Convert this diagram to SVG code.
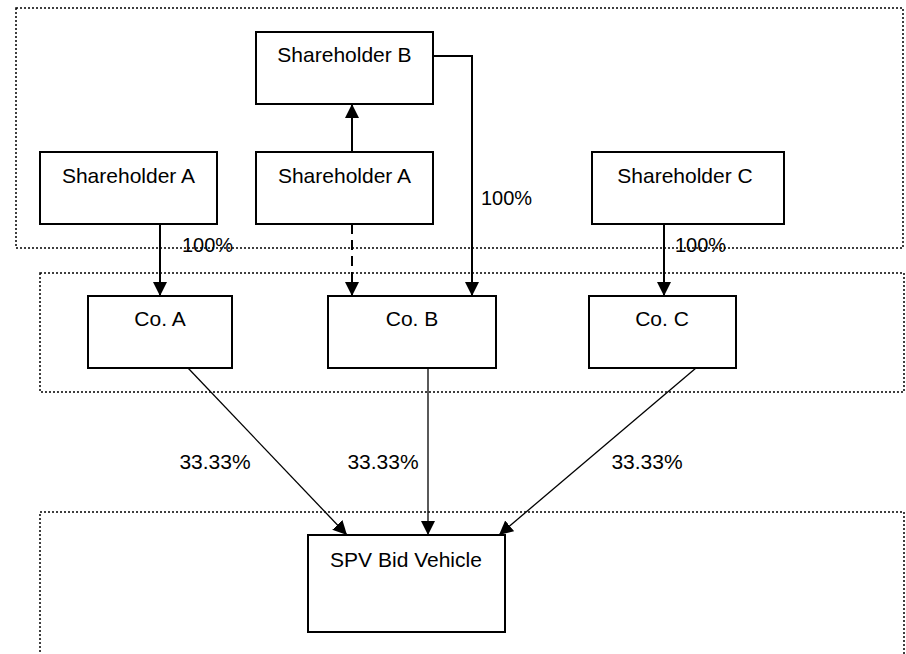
<svg xmlns="http://www.w3.org/2000/svg" width="906" height="654" viewBox="0 0 906 654">
<style>
  .box { fill: #fff; stroke: #000; stroke-width: 2; }
  .zone { fill: none; stroke: #000; stroke-width: 1.5; stroke-dasharray: 2 2; }
  .lbl { font-family: "Liberation Sans", Arial, sans-serif; font-size: 21px; fill: #000; text-anchor: middle; }
  .pct { font-family: "Liberation Sans", Arial, sans-serif; font-size: 20px; fill: #000; }
  .conn { fill: none; stroke: #000; stroke-width: 2; }
  .thin { fill: none; stroke: #000; stroke-width: 1.3; }
</style>
<defs>
  <marker id="arr" markerUnits="userSpaceOnUse" markerWidth="14" markerHeight="16" refX="14" refY="7" orient="auto">
    <path d="M0,0 L14,7 L0,14 Z" fill="#000"/>
  </marker>
</defs>
<rect width="906" height="654" fill="#fff"/>
<g id="zones">
  <rect class="zone" x="16" y="8" width="887" height="240"/>
  <rect class="zone" x="40" y="273" width="864" height="119"/>
  <path class="zone" d="M40,660 V512 H904 V660"/>
</g>
<g id="connectors">
  <line class="conn" x1="160" y1="224" x2="160" y2="296" marker-end="url(#arr)"/>
  <line class="conn" x1="352" y1="224" x2="352" y2="296" stroke-dasharray="10 6" marker-end="url(#arr)"/>
  <line class="conn" x1="352" y1="152" x2="352" y2="104" marker-end="url(#arr)"/>
  <polyline class="conn" points="433,56 472,56 472,296" marker-end="url(#arr)"/>
  <line class="conn" x1="664" y1="224" x2="664" y2="296" marker-end="url(#arr)"/>
  <line class="thin" x1="188" y1="368" x2="347" y2="535" marker-end="url(#arr)"/>
  <line class="thin" x1="428" y1="368" x2="428" y2="535" marker-end="url(#arr)"/>
  <line class="thin" x1="696" y1="368" x2="499" y2="535" marker-end="url(#arr)"/>
  <text class="pct" x="182" y="252">100%</text>
  <text class="pct" x="481" y="205">100%</text>
  <text class="pct" x="675" y="252">100%</text>
  <text class="lbl" x="215" y="469">33.33%</text>
  <text class="lbl" x="383" y="469">33.33%</text>
  <text class="lbl" x="647" y="469">33.33%</text>
</g>
<g id="shB"><rect class="box" x="256" y="32" width="177" height="72"/><text class="lbl" x="344.5" y="62">Shareholder B</text></g>
<g id="shA1"><rect class="box" x="40" y="152" width="177" height="72"/><text class="lbl" x="128.5" y="183">Shareholder A</text></g>
<g id="shA2"><rect class="box" x="256" y="152" width="177" height="72"/><text class="lbl" x="344.5" y="183">Shareholder A</text></g>
<g id="shC"><rect class="box" x="592" y="152" width="192" height="72"/><text class="lbl" x="685" y="183">Shareholder C</text></g>
<g id="coA"><rect class="box" x="88" y="296" width="144" height="72"/><text class="lbl" x="160" y="326">Co. A</text></g>
<g id="coB"><rect class="box" x="328" y="296" width="168" height="72"/><text class="lbl" x="412" y="326">Co. B</text></g>
<g id="coC"><rect class="box" x="589" y="296" width="147" height="72"/><text class="lbl" x="662" y="326">Co. C</text></g>
<g id="spv"><rect class="box" x="308" y="535" width="197" height="97"/><text class="lbl" x="406" y="567">SPV Bid Vehicle</text></g>
</svg>
